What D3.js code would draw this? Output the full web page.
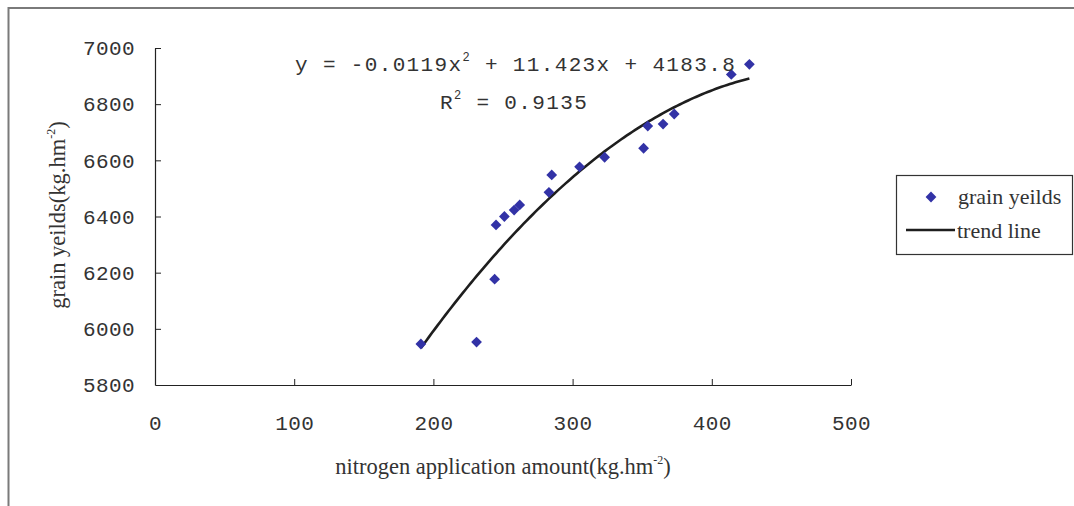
<!DOCTYPE html>
<html>
<head>
<meta charset="utf-8">
<script src="https://cdn.jsdelivr.net/npm/d3@7"></script>
<style>
  body { margin: 0; background: #fff; }
  svg { display: block; }
</style>
</head>
<body>
<div id="chart"></div>
<script>
// nitrogen application (kg.hm-2) vs grain yields
const nitrogen = [191, 231, 244, 245, 251, 258, 262, 283, 285, 305, 323, 351, 354, 365, 373, 414, 427];
const yields = [5946, 5953, 6177, 6370, 6400, 6423, 6441, 6486, 6548, 6577, 6611, 6643, 6722, 6729, 6765, 6906, 6942];
// trend line y = a*x^2 + b*x + c, as printed on the chart
const trendCoef = [-0.0119, 11.423, 4183.8];
const xTicks = [0, 100, 200, 300, 400, 500];
const yTicks = [5800, 6000, 6200, 6400, 6600, 6800, 7000];

const width = 1074, height = 506;
const monoFont = '"Liberation Mono", "DejaVu Sans Mono", monospace';
const serifFont = '"Liberation Serif", "DejaVu Serif", serif';

const svg = d3.select('#chart')
  .append('svg')
  .attr('width', width)
  .attr('height', height);

svg.append('rect')
  .attr('width', width)
  .attr('height', height)
  .attr('fill', '#fff');

// outer chart border (runs off the right and bottom edge)
svg.append('rect')
  .attr('x', 8.5)
  .attr('y', 8)
  .attr('width', width + 20)
  .attr('height', height + 20)
  .attr('fill', 'none')
  .attr('stroke', '#7a7a7a')
  .attr('stroke-width', 2);

const x = d3.scaleLinear().domain([0, 500]).range([155, 851]);
const y = d3.scaleLinear().domain([5800, 7000]).range([385, 48]);

const xAxis = svg.append('g')
  .attr('transform', `translate(0, ${y(5800)})`)
  .call(d3.axisBottom(x).tickValues(xTicks).tickFormat(d3.format('d'))
    .tickSizeInner(-6).tickSizeOuter(0).tickPadding(30));

const yAxis = svg.append('g')
  .attr('transform', `translate(${x(0)}, 0)`)
  .call(d3.axisLeft(y).tickValues(yTicks).tickFormat(d3.format('d'))
    .tickSizeInner(-6).tickSizeOuter(0).tickPadding(20));

[xAxis, yAxis].forEach(ax => {
  ax.select('.domain').attr('stroke', '#222').attr('stroke-width', 1.2);
  ax.selectAll('.tick line').attr('stroke', '#222');
  ax.selectAll('.tick text')
    .attr('fill', '#333')
    .style('font-family', monoFont)
    .style('font-size', '21px')
    .style('letter-spacing', '0.4px');
});
xAxis.selectAll('.tick text').attr('dy', '0.71em');
// no tick marks where the two axes meet
yAxis.selectAll('.tick line').filter(d => d === 5800).remove();
xAxis.selectAll('.tick line').filter(d => d === 0).remove();

// trend line
const xMin = d3.min(nitrogen), xMax = d3.max(nitrogen);
const trendPts = d3.range(xMin, xMax + 0.5, 2).map(v => [v, trendCoef[0] * v * v + trendCoef[1] * v + trendCoef[2]]);
svg.append('path')
  .datum(trendPts)
  .attr('fill', 'none')
  .attr('stroke', '#1e1e1e')
  .attr('stroke-width', 2.6)
  .attr('d', d3.line().x(d => x(d[0])).y(d => y(d[1])).curve(d3.curveMonotoneX));

// points (diamonds)
const diamond = d3.symbol().type(d3.symbolSquare).size(58);
svg.append('g')
  .selectAll('path')
  .data(nitrogen.map((n, i) => [n, yields[i]]))
  .enter()
  .append('path')
  .attr('d', diamond)
  .attr('transform', d => `translate(${x(d[0])}, ${y(d[1])}) rotate(45)`)
  .attr('fill', '#3232a6');

// equation text
const eq = svg.append('text')
  .attr('x', 295)
  .attr('y', 71)
  .attr('fill', '#333')
  .style('font-family', monoFont)
  .style('font-size', '21px')
  .style('letter-spacing', '1.35px');
eq.append('tspan').text('y = -0.0119x');
eq.append('tspan').attr('dy', -10).style('font-size', '12px').text('2');
eq.append('tspan').attr('dy', 10).text(' + 11.423x + 4183.8');

const r2 = svg.append('text')
  .attr('x', 440)
  .attr('y', 109)
  .attr('fill', '#333')
  .style('font-family', monoFont)
  .style('font-size', '21px')
  .style('letter-spacing', '1.35px');
r2.append('tspan').text('R');
r2.append('tspan').attr('dy', -10).style('font-size', '12px').text('2');
r2.append('tspan').attr('dy', 10).text(' = 0.9135');

// axis titles
const xTitle = svg.append('text')
  .attr('x', 503)
  .attr('y', 474)
  .attr('text-anchor', 'middle')
  .attr('fill', '#333')
  .style('font-family', serifFont)
  .style('font-size', '22.5px');
xTitle.append('tspan').text('nitrogen application amount(kg.hm');
xTitle.append('tspan').attr('dy', -10).style('font-size', '12px').text('-2');
xTitle.append('tspan').attr('dy', 10).text(')');

const yTitle = svg.append('text')
  .attr('transform', 'translate(65, 215) rotate(-90)')
  .attr('text-anchor', 'middle')
  .attr('fill', '#333')
  .style('font-family', serifFont)
  .style('font-size', '22.5px');
yTitle.append('tspan').text('grain yeilds(kg.hm');
yTitle.append('tspan').attr('dy', -10).style('font-size', '12px').text('-2');
yTitle.append('tspan').attr('dy', 10).text(')');

// legend
const legend = svg.append('g');
legend.append('rect')
  .attr('x', 896.5)
  .attr('y', 175.5)
  .attr('width', 176)
  .attr('height', 79)
  .attr('fill', '#fff')
  .attr('stroke', '#333')
  .attr('stroke-width', 1.2);
legend.append('path')
  .attr('d', diamond)
  .attr('transform', 'translate(931, 197) rotate(45)')
  .attr('fill', '#3232a6');
legend.append('text')
  .attr('x', 958)
  .attr('y', 204)
  .attr('fill', '#333')
  .style('font-family', serifFont)
  .style('font-size', '22px')
  .text('grain yeilds');
legend.append('line')
  .attr('x1', 906)
  .attr('x2', 955)
  .attr('y1', 230)
  .attr('y2', 230)
  .attr('stroke', '#1e1e1e')
  .attr('stroke-width', 2.6);
legend.append('text')
  .attr('x', 957)
  .attr('y', 238)
  .attr('fill', '#333')
  .style('font-family', serifFont)
  .style('font-size', '22px')
  .text('trend line');
</script>
</body>
</html>
